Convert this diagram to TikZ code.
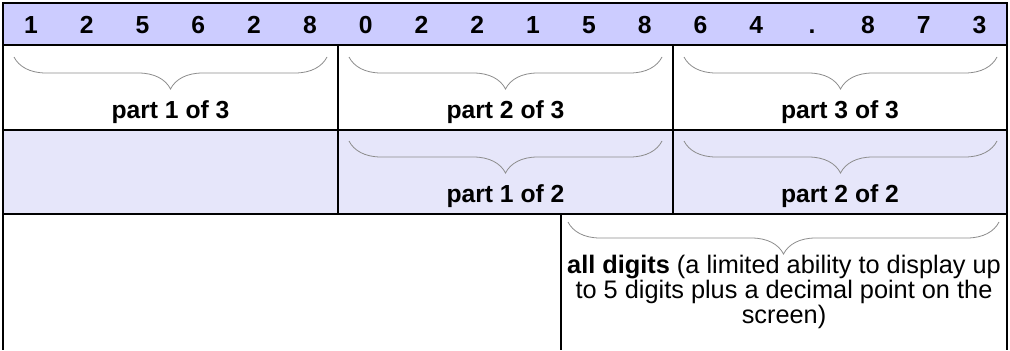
\documentclass[tikz,border=0pt]{standalone}
\usepackage{fontspec}
\setmainfont{Liberation Sans}
\usetikzlibrary{decorations.pathreplacing}
\definecolor{digitblue}{HTML}{CCCCFF}
\definecolor{paleblue}{HTML}{E6E6FA}
\definecolor{bracegray}{HTML}{8C8C8C}
\tikzset{
	digit/.style={font=\fontsize{18.5}{21}\selectfont\bfseries, anchor=base, inner sep=0pt}
}
\tikzset{
	partlabel/.style={font=\fontsize{18.5}{21}\selectfont\bfseries, anchor=base, inner sep=0pt}
}
\tikzset{
	curly/.style={draw=bracegray, line width=0.6pt, decorate, decoration={brace, mirror, amplitude=24pt}}
}
\tikzset{
	cellline/.style={draw=black, line width=1pt}
}
\begin{document}
\begin{tikzpicture}[x=0.75pt, y=-0.75pt]
			\useasboundingbox (0,0) rectangle (1010,350);

			\begin{scope}
				\fill[digitblue] (3,3) rectangle (1007,45);
				\fill[paleblue] (3,130) rectangle (1007,214);
				\draw[cellline] (3,3) rectangle (1007,45);
				\draw[cellline] (3,45) -- (3,350);
				\draw[cellline] (1007,45) -- (1007,350);
				\draw[cellline] (3,130) -- (1007,130);
				\draw[cellline] (3,214) -- (1007,214);
				\draw[cellline] (338,45) -- (338,214);
				\draw[cellline] (673,45) -- (673,214);
				\draw[cellline] (561,214) -- (561,350);
			\end{scope}

			\begin{scope}
				\node[digit] (d1) at (30.9,33) {1};
				\node[digit] (d2) at (86.7,33) {2};
				\node[digit] (d3) at (142.5,33) {5};
				\node[digit] (d4) at (198.3,33) {6};
				\node[digit] (d5) at (254.1,33) {2};
				\node[digit] (d6) at (309.9,33) {8};
				\node[digit] (d7) at (365.7,33) {0};
				\node[digit] (d8) at (421.5,33) {2};
				\node[digit] (d9) at (477.3,33) {2};
				\node[digit] (d10) at (533.1,33) {1};
				\node[digit] (d11) at (588.9,33) {5};
				\node[digit] (d12) at (644.7,33) {8};
				\node[digit] (d13) at (700.5,33) {6};
				\node[digit] (d14) at (756.3,33) {4};
				\node[digit] (d15) at (812.1,33) {.};
				\node[digit] (d16) at (867.9,33) {8};
				\node[digit] (d17) at (923.7,33) {7};
				\node[digit] (d18) at (979.5,33) {3};
			\end{scope}

			\begin{scope}
				\draw[curly] (14,57) -- (327,57);
				\draw[curly] (349,57) -- (662,57);
				\draw[curly] (684,57) -- (997,57);
				\draw[curly] (349,141) -- (662,141);
				\draw[curly] (684,141) -- (997,141);
				\draw[curly] (568,222) -- (999,222);

				\node[partlabel] (p13) at (170.5,118) {part 1 of 3};
				\node[partlabel] (p23) at (505.5,118) {part 2 of 3};
				\node[partlabel] (p33) at (840,118) {part 3 of 3};
				\node[partlabel] (p12) at (505.5,202) {part 1 of 2};
				\node[partlabel] (p22) at (840,202) {part 2 of 2};

				\node[font=\fontsize{19}{17}\selectfont, align=center, anchor=north, inner sep=0pt] (alld) at (784,255)
					{\textbf{all digits} (a limited ability to display up\\to 5 digits plus a decimal point on the\\screen)};
			\end{scope}

		\end{tikzpicture}
\end{document}
